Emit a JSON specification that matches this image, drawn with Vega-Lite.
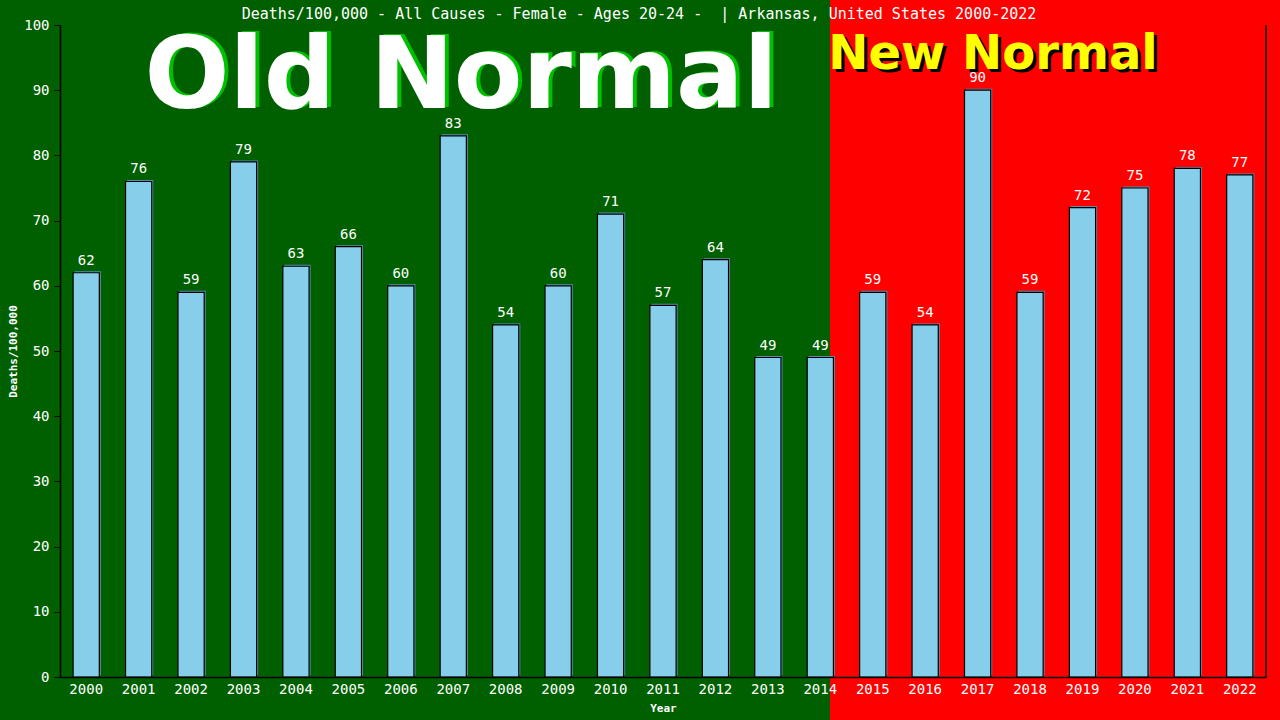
{
  "$schema": "https://vega.github.io/schema/vega-lite/v6.json",
  "autosize": "none",
  "width": 1206,
  "height": 652,
  "padding": {"left": 60, "top": 25, "right": 14, "bottom": 43},
  "background": "#006000",
  "config": {"view": {"stroke": null}},
  "title": {
    "text": "Deaths/100,000 - All Causes - Female - Ages 20-24 -\u00a0 | Arkansas, United States 2000-2022",
    "font": "DejaVu Sans Mono",
    "fontSize": 15,
    "fontWeight": "normal",
    "color": "white",
    "anchor": "middle",
    "offset": 7,
    "dx": -24,
    "dy": 30
  },
  "datasets": {
    "deaths": [
      {"year": 2000, "value": 62}, {"year": 2001, "value": 76}, {"year": 2002, "value": 59},
      {"year": 2003, "value": 79}, {"year": 2004, "value": 63}, {"year": 2005, "value": 66},
      {"year": 2006, "value": 60}, {"year": 2007, "value": 83}, {"year": 2008, "value": 54},
      {"year": 2009, "value": 60}, {"year": 2010, "value": 71}, {"year": 2011, "value": 57},
      {"year": 2012, "value": 64}, {"year": 2013, "value": 49}, {"year": 2014, "value": 49},
      {"year": 2015, "value": 59}, {"year": 2016, "value": 54}, {"year": 2017, "value": 90},
      {"year": 2018, "value": 59}, {"year": 2019, "value": 72}, {"year": 2020, "value": 75},
      {"year": 2021, "value": 78}, {"year": 2022, "value": 77}
    ],
    "one": [{"k": 1}]
  },
  "layer": [
    {
      "data": {"name": "one"},
      "mark": {"type": "rect", "color": "#FF0000", "clip": false},
      "encoding": {
        "x": {"datum": 2014, "type": "ordinal", "bandPosition": 0.87},
        "x2": {"datum": 2022, "bandPosition": 2.1},
        "y": {"datum": 104, "type": "quantitative"},
        "y2": {"datum": -8}
      }
    },
    {
      "data": {"name": "one"},
      "mark": {"type": "text", "font": "DejaVu Sans", "fontWeight": "bold", "fontSize": 100, "color": "#00C000", "align": "center", "baseline": "alphabetic", "dx": 4, "dy": -1},
      "encoding": {
        "x": {"datum": 2007, "type": "ordinal", "bandPosition": 0.8},
        "y": {"datum": 87.2, "type": "quantitative"},
        "text": {"value": "Old Normal"}
      }
    },
    {
      "data": {"name": "one"},
      "mark": {"type": "text", "font": "DejaVu Sans", "fontWeight": "bold", "fontSize": 100, "color": "white", "align": "center", "baseline": "alphabetic"},
      "encoding": {
        "x": {"datum": 2007, "type": "ordinal", "bandPosition": 0.8},
        "y": {"datum": 87.2, "type": "quantitative"},
        "text": {"value": "Old Normal"}
      }
    },
    {
      "data": {"name": "one"},
      "mark": {"type": "text", "font": "DejaVu Sans", "fontWeight": "bold", "fontSize": 48, "color": "black", "align": "center", "baseline": "alphabetic", "dx": 3, "dy": 3},
      "encoding": {
        "x": {"datum": 2017, "type": "ordinal", "bandPosition": 1.09},
        "y": {"datum": 93.2, "type": "quantitative"},
        "text": {"value": "New Normal"}
      }
    },
    {
      "data": {"name": "one"},
      "mark": {"type": "text", "font": "DejaVu Sans", "fontWeight": "bold", "fontSize": 48, "color": "#FFFF00", "align": "center", "baseline": "alphabetic"},
      "encoding": {
        "x": {"datum": 2017, "type": "ordinal", "bandPosition": 1.09},
        "y": {"datum": 93.2, "type": "quantitative"},
        "text": {"value": "New Normal"}
      }
    },
    {
      "data": {"name": "deaths"},
      "mark": {"type": "bar", "color": "#5a8db0", "xOffset": 1.5, "yOffset": -1.5},
      "encoding": {
        "x": {
          "field": "year", "type": "ordinal",
          "scale": {"paddingInner": 0.5, "paddingOuter": 0.25},
          "axis": {
            "title": "Year", "titleColor": "white", "titleFont": "DejaVu Sans Mono", "titleFontSize": 11, "titleFontWeight": "bold", "titlePadding": 6,
            "labelColor": "white", "labelFont": "DejaVu Sans Mono", "labelFontSize": 14, "labelAngle": 0, "labelPadding": 12,
            "bandPosition": 0.5, "labelAlign": "center",
            "ticks": false, "domainColor": "black", "domainWidth": 1.5, "grid": false
          }
        },
        "y": {
          "field": "value", "type": "quantitative",
          "scale": {"domain": [0, 100], "nice": false},
          "axis": {
            "title": "Deaths/100,000", "titleColor": "white", "titleFont": "DejaVu Sans Mono", "titleFontSize": 11, "titleFontWeight": "bold", "titlePadding": 5,
            "labelColor": "white", "labelFont": "DejaVu Sans Mono", "labelFontSize": 14, "labelPadding": 5,
            "values": [0, 10, 20, 30, 40, 50, 60, 70, 80, 90, 100],
            "tickColor": "black", "tickSize": 6, "domainColor": "black", "domainWidth": 1.5, "grid": false
          }
        }
      }
    },
    {
      "data": {"name": "deaths"},
      "mark": {"type": "bar", "color": "#87CEEB", "stroke": "black", "strokeWidth": 1.2},
      "encoding": {
        "x": {"field": "year", "type": "ordinal"},
        "y": {"field": "value", "type": "quantitative"}
      }
    },
    {
      "data": {"name": "deaths"},
      "mark": {"type": "text", "color": "white", "font": "DejaVu Sans Mono", "fontSize": 14, "baseline": "bottom", "dy": -5},
      "encoding": {
        "x": {"field": "year", "type": "ordinal"},
        "y": {"field": "value", "type": "quantitative"},
        "text": {"field": "value", "type": "quantitative"}
      }
    },
    {
      "data": {"name": "one"},
      "mark": {"type": "rule", "color": "black", "strokeWidth": 1.5},
      "encoding": {
        "x": {"datum": 2022, "type": "ordinal", "bandPosition": 1.5},
        "y": {"datum": 0, "type": "quantitative"},
        "y2": {"datum": 100}
      }
    }
  ]
}
